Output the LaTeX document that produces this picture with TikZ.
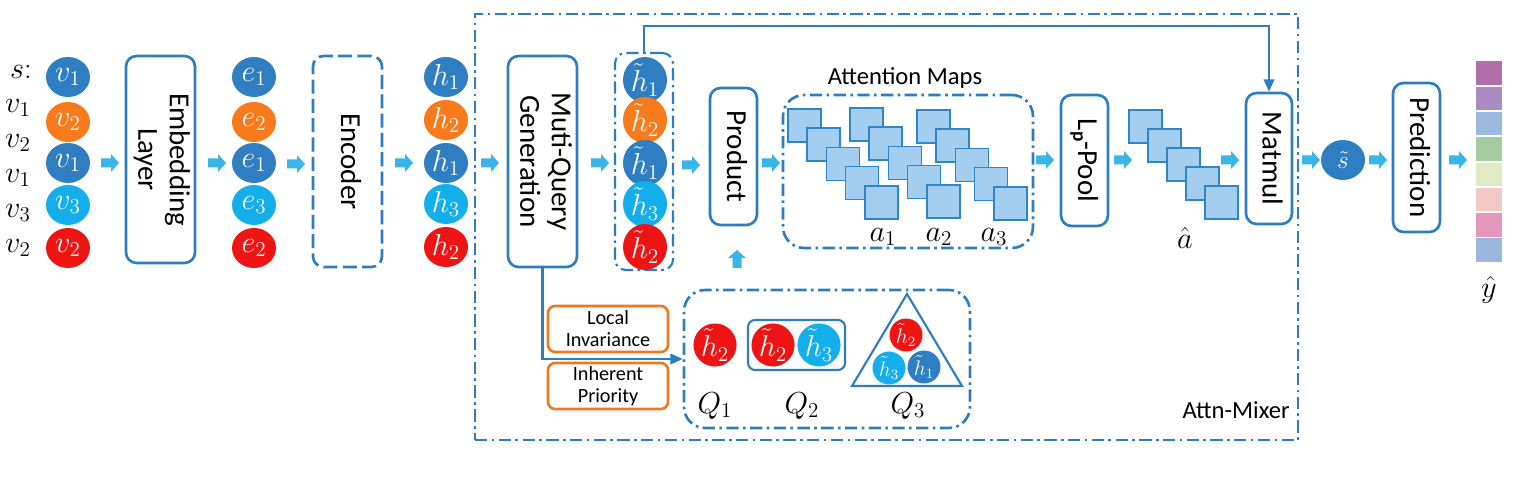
\documentclass[tikz,border=0pt]{standalone}
\usepackage{fontspec}
\setmainfont{Carlito}
\usetikzlibrary{shapes.geometric,arrows.meta}
\definecolor{cdblue}{HTML}{2E7EC1}
\definecolor{corange}{HTML}{F77B1C}
\definecolor{ccyan}{HTML}{14AEEB}
\definecolor{cred}{HTML}{EF1414}
\definecolor{cline}{HTML}{2E7EBF}
\definecolor{carrow}{HTML}{3BB4EA}
\definecolor{csqfill}{HTML}{A3CEF0}
\definecolor{csqline}{HTML}{2E86C8}
\definecolor{cobox}{HTML}{F07A22}
\definecolor{cy1}{HTML}{B06FA8}
\definecolor{cy2}{HTML}{A88CC2}
\definecolor{cy3}{HTML}{9BB8E0}
\definecolor{cy4}{HTML}{A5CC9E}
\definecolor{cy5}{HTML}{E0EAC4}
\definecolor{cy6}{HTML}{F4C8C5}
\definecolor{cy7}{HTML}{E597BB}
\definecolor{cy8}{HTML}{9CB7DF}
\newcommand{\vtext}[1]{\rotatebox{-90}{\begin{tabular}{@{}c@{}}#1\end{tabular}}}
\begin{document}
\begin{tikzpicture}[x=0.02cm,y=-0.02cm,
  box/.style={draw=cline, line width=1.5pt, rounded corners=6pt, fill=white, inner sep=0pt, align=center, font=\fontsize{16.5}{18}\selectfont},
  circ/.style={ellipse, minimum width=0.88cm, minimum height=0.8cm, inner sep=0pt, text=white, font=\fontsize{17}{19}\selectfont},
  qcirc/.style={circle, minimum size=0.86cm, inner sep=0pt, text=white, font=\fontsize{17}{19}\selectfont},
  scirc/.style={circle, minimum size=0.66cm, inner sep=0pt, text=white, font=\fontsize{12}{14}\selectfont},
  lab/.style={inner sep=0pt, font=\fontsize{17}{19}\selectfont},
  dashdot/.style={draw=cline, line width=1.5pt, dash pattern=on 7pt off 2.5pt on 1.5pt off 2.5pt},
  sq/.style={draw=csqline, fill=csqfill, line width=0.9pt, minimum size=0.66cm, inner sep=0pt, anchor=north west},
  obox/.style={draw=cobox, line width=1.5pt, rounded corners=4pt, minimum width=2.4cm, minimum height=0.92cm, inner sep=0pt, align=center, font=\fontsize{11.5}{12.5}\selectfont},
  conn/.style={draw=cline, line width=1.2pt},
  barrow/.pic={\fill[carrow] (-9,-4.5) -- (1,-4.5) -- (1,-9) -- (9,0) -- (1,9) -- (1,4.5) -- (-9,4.5) -- cycle;}
]
\useasboundingbox (0,0) rectangle (1532,479);

% left labels
\node[lab] (ls) at (21,72) {$s{:}$};
\node[lab] (l1) at (18,108) {$v_1$};
\node[lab] (l2) at (18,143) {$v_2$};
\node[lab] (l3) at (18,178) {$v_1$};
\node[lab] (l4) at (18,213) {$v_3$};
\node[lab] (l5) at (18,248) {$v_2$};

% v column
\node[circ, fill=cdblue] (v1) at (68,77) {$v_1$};
\node[circ, fill=corange] (v2) at (68,122) {$v_2$};
\node[circ, fill=cdblue] (v3) at (68,163) {$v_1$};
\node[circ, fill=ccyan] (v4) at (68,205) {$v_3$};
\node[circ, fill=cred] (v5) at (68,248) {$v_2$};

\node[box, minimum width=1.38cm, minimum height=4.14cm] (emb) at (160.5,159.5) {\vtext{Embedding\\Layer}};

% e column
\node[circ, fill=cdblue] (e1) at (254,77) {$e_1$};
\node[circ, fill=corange] (e2) at (254,122) {$e_2$};
\node[circ, fill=cdblue] (e3) at (254,163) {$e_1$};
\node[circ, fill=ccyan] (e4) at (254,205) {$e_3$};
\node[circ, fill=cred] (e5) at (254,248) {$e_2$};

\node[box, dash pattern=on 8pt off 3pt, minimum width=1.38cm, minimum height=4.22cm] (enc) at (347.5,161.5) {\vtext{Encoder}};

% h column
\node[circ, fill=cdblue] (h1) at (446,77) {$h_1$};
\node[circ, fill=corange] (h2) at (446,120) {$h_2$};
\node[circ, fill=cdblue] (h3) at (446,163) {$h_1$};
\node[circ, fill=ccyan] (h4) at (446,204) {$h_3$};
\node[circ, fill=cred] (h5) at (446,247) {$h_2$};

% Attn-Mixer frame
\node[dashdot, minimum width=16.46cm, minimum height=8.52cm, inner sep=0pt] (mixer) at (886.5,227) {};
\node[inner sep=0pt, font=\fontsize{14}{15}\selectfont, anchor=east] (mixlab) at (1290,410) {Attn-Mixer};

\node[box, minimum width=1.38cm, minimum height=4.22cm] (mqg) at (542.5,161.5) {\vtext{Muti-Query\\Generation}};

% h tilde column
\node[dashdot, line width=1.2pt, rounded corners=6pt, minimum width=1.16cm, minimum height=4.34cm, inner sep=0pt] (hbox) at (644,161.5) {};
\node[circ, fill=cdblue] (t1) at (645,80) {$\tilde{h}_1$};
\node[circ, fill=corange] (t2) at (645,120) {$\tilde{h}_2$};
\node[circ, fill=cdblue] (t3) at (645,163) {$\tilde{h}_1$};
\node[circ, fill=ccyan] (t4) at (645,204) {$\tilde{h}_3$};
\node[circ, fill=cred] (t5) at (645,247) {$\tilde{h}_2$};

\node[box, minimum width=0.94cm, minimum height=2.74cm] (prod) at (733.5,156.5) {\vtext{Product}};

% attention maps
\node[dashdot, rounded corners=12pt, minimum width=5.0cm, minimum height=3.06cm, inner sep=0pt] (amap) at (908,171.5) {};
\node[inner sep=0pt, font=\fontsize{14}{15}\selectfont] (amaplab) at (905,78) {Attention Maps};
\foreach \gx/\gy/\g in {787/108/a, 849/107/b, 916/109/c}{
  \foreach \i in {0,...,4}{
    \node[sq] (sq\g\i) at ({\gx+19.3*\i},{\gy+19.3*\i}) {};
  }
}
\node[lab] (a1) at (883,237) {$a_1$};
\node[lab] (a2) at (939,237) {$a_2$};
\node[lab] (a3) at (994,237) {$a_3$};

\node[box, minimum width=0.94cm, minimum height=2.62cm] (pool) at (1084.5,160.5) {\vtext{L\raisebox{-0.35ex}{\fontsize{11}{12}\selectfont\bfseries p}-Pool}};

\foreach \i in {0,...,4}{
  \node[sq] (ah\i) at ({1128+19*\i},{109+19*\i}) {};
}
\node[lab] (ahat) at (1185,238) {$\hat{a}$};

\node[box, minimum width=0.92cm, minimum height=2.62cm] (matmul) at (1269,158.5) {\vtext{Matmul}};

\node[circ, fill=cdblue, font=\fontsize{14}{16}\selectfont] (st) at (1343,160) {$\tilde{s}$};

\node[box, minimum width=0.94cm, minimum height=2.98cm] (pred) at (1416.5,157.5) {\vtext{Prediction}};

% output vector
\foreach \i/\c in {0/cy1,1/cy2,2/cy3,3/cy4,4/cy5,5/cy6,6/cy7,7/cy8}{
  \node[fill=\c, minimum width=0.52cm, minimum height=0.47cm, inner sep=0pt, anchor=north west] (y\i) at (1476,{61+25.3*\i}) {};
}
\node[lab] (yhat) at (1489,290) {$\hat{y}$};

% query section
\node[obox] (loc) at (608,329) {Local\\Invariance};
\node[obox] (inh) at (608,386) {Inherent\\Priority};
\node[dashdot, rounded corners=12pt, minimum width=5.72cm, minimum height=2.76cm, inner sep=0pt] (qbox) at (827,359) {};
\node[qcirc, fill=cred] (q1) at (715,345) {$\tilde{h}_2$};
\node[draw=cline, line width=1.2pt, rounded corners=4pt, minimum width=1.94cm, minimum height=1.0cm, inner sep=0pt] (q2box) at (796.5,345) {};
\node[qcirc, fill=cred] (q2a) at (773,345) {$\tilde{h}_2$};
\node[qcirc, fill=ccyan] (q2b) at (819,345) {$\tilde{h}_3$};
\coordinate (tA) at (907,294);
\coordinate (tB) at (852,386);
\coordinate (tC) at (962,386);
\draw[draw=cline, line width=1.2pt, line join=miter] (tA) -- (tB) -- (tC) -- cycle;
\node[scirc, fill=cred] (q3a) at (906,335) {$\tilde{h}_2$};
\node[scirc, fill=ccyan] (q3b) at (889,368) {$\tilde{h}_3$};
\node[scirc, fill=cdblue] (q3c) at (924,367) {$\tilde{h}_1$};
\node[lab] (Q1) at (715,406) {$Q_1$};
\node[lab] (Q2) at (802,406) {$Q_2$};
\node[lab] (Q3) at (908,406) {$Q_3$};

% connectors
\draw[conn, -{Triangle[length=7pt,width=6pt]}] (hbox.north) -- ++(0,-26) -| (matmul.north);
\draw[conn, -{Triangle[length=7pt,width=6pt]}] (mqg.south) |- (qbox.west);

% block arrows
\foreach \ax/\ay/\n in {110/163/1, 217/163/2, 296/164/3, 404/163/4, 490/163/5, 600/163/6, 691/165/7, 771/163/8, 1045/160/9, 1123/160/10, 1230/160/11, 1311/160/12, 1378/160/13, 1458/160/14}{
  \pic (ba\n) at (\ax,\ay) {barrow};
}
\pic[rotate=90] (baup) at (737,259) {barrow};
\end{tikzpicture}
\end{document}
